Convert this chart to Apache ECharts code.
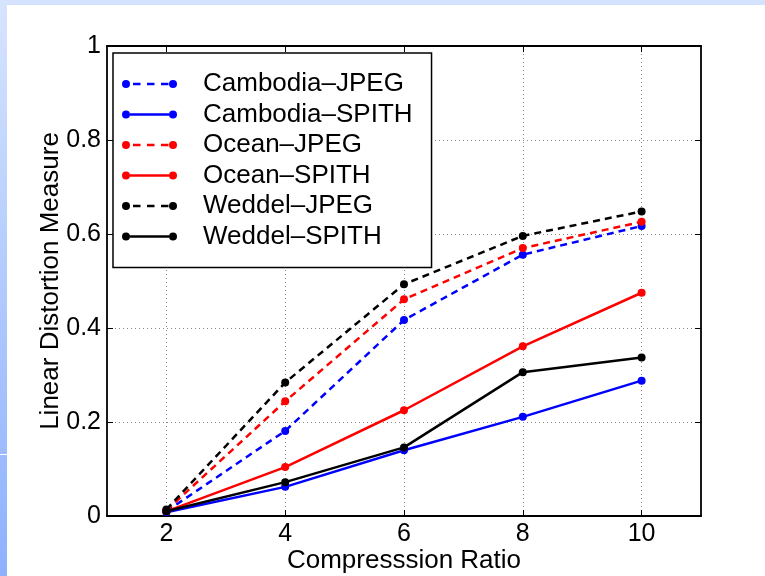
<!DOCTYPE html>
<html><head><meta charset="utf-8">
<script src="https://cdn.jsdelivr.net/npm/echarts@6/dist/echarts.min.js"></script>
<style>html,body{margin:0;padding:0;background:#fff}#c{width:765px;height:576px}</style>
</head><body><div id="c"></div>
<script>
const xValues = [2, 4, 6, 8, 10];
const xTicks = [2, 4, 6, 8, 10];
const yTicks = [0, 0.2, 0.4, 0.6, 0.8, 1];
const seriesNames = ['Cambodia–JPEG', 'Cambodia–SPITH', 'Ocean–JPEG', 'Ocean–SPITH', 'Weddel–JPEG', 'Weddel–SPITH'];
const cambodiaJpeg  = [0.010, 0.181, 0.417, 0.556, 0.617];
const cambodiaSpith = [0.008, 0.062, 0.140, 0.211, 0.288];
const oceanJpeg     = [0.012, 0.244, 0.461, 0.570, 0.626];
const oceanSpith    = [0.010, 0.104, 0.225, 0.361, 0.475];
const weddelJpeg    = [0.014, 0.284, 0.493, 0.596, 0.648];
const weddelSpith   = [0.010, 0.072, 0.146, 0.306, 0.337];
const seriesValues = [cambodiaJpeg, cambodiaSpith, oceanJpeg, oceanSpith, weddelJpeg, weddelSpith];
const seriesColors = ['#0000ff', '#0000ff', '#ff0000', '#ff0000', '#000000', '#000000'];
const seriesDashed = [true, false, true, false, true, false];

const FONT = '"Liberation Sans", Arial, Helvetica, sans-serif';
const circ = (cx) => 'M' + (cx - 4) + ',4a4,4 0 1,0 8,0a4,4 0 1,0 -8,0Z';
const dashedIcon = 'path://' + circ(4) + 'M11,2.75h7.5v2.5h-7.5Z M25,2.75h7.5v2.5h-7.5Z M39,2.75h7.5v2.5h-7.5Z' + circ(51);
const solidIcon = 'path://' + circ(4) + 'M8,2.75h39v2.5h-39Z' + circ(51);

const chart = echarts.init(document.getElementById('c'), null, {renderer: 'canvas'});

const axisCommon = {
  axisLine: {show: true, onZero: false, lineStyle: {color: '#000', width: 1.8}},
  axisTick: {show: true, inside: true, length: 6, lineStyle: {color: '#000', width: 1}},
};

const series = seriesNames.map((name, i) => ({
  name: name,
  type: 'line',
  data: xValues.map((x, j) => [x, seriesValues[i][j]]),
  symbol: 'circle',
  symbolSize: 8,
  showSymbol: true,
  color: seriesColors[i],
  lineStyle: {color: seriesColors[i], width: 2.5, type: seriesDashed[i] ? [7, 5] : 'solid'},
  itemStyle: {color: seriesColors[i], borderWidth: 0},
  emphasis: {disabled: true},
  z: 3 + i
}));

chart.setOption({
  animation: false,
  backgroundColor: '#ffffff',
  textStyle: {fontFamily: FONT},
  graphic: [
    {type: 'rect', shape: {x: 0, y: 0, width: 765, height: 5}, style: {fill: '#d4e2fd'}, silent: true, z: -10},
    {type: 'rect', shape: {x: 0, y: 0, width: 7, height: 576},
     style: {fill: new echarts.graphic.LinearGradient(0, 0, 0, 1, [{offset: 0, color: '#d6e4fd'}, {offset: 1, color: '#8db1fe'}])},
     silent: true, z: -10},
    {type: 'rect', shape: {x: 0, y: 454, width: 7, height: 1}, style: {fill: '#ffffff'}, silent: true, z: -9}
  ],
  grid: {left: 107, right: 64, top: 46, bottom: 60, containLabel: false, outerBoundsMode: 'none'},
  legend: {
    orient: 'vertical',
    left: 113,
    top: 53,
    align: 'left',
    itemWidth: 55,
    itemHeight: 8,
    itemGap: 2.5,
    padding: [17, 19, 17, 9],
    backgroundColor: '#ffffff',
    borderColor: '#000000',
    borderWidth: 1.5,
    borderRadius: 0,
    selectedMode: false,
    textStyle: {fontFamily: FONT, fontSize: 26, color: '#000', lineHeight: 28, padding: [0, 0, 0, 21]},
    data: seriesNames.map((name, i) => ({
      name: name,
      icon: seriesDashed[i] ? dashedIcon : solidIcon,
      itemStyle: {color: seriesColors[i], borderWidth: 0}
    })),
    z: 20
  },
  xAxis: [
    Object.assign({}, axisCommon, {
      type: 'value', position: 'bottom', min: 1, max: 11,
      name: 'Compresssion Ratio', nameLocation: 'middle', nameGap: 32, nameMoveOverlap: false,
      nameTextStyle: {fontFamily: FONT, fontSize: 26, color: '#000'},
      axisTick: Object.assign({}, axisCommon.axisTick, {customValues: xTicks}),
      axisLabel: {customValues: xTicks, fontFamily: FONT, fontSize: 25, color: '#000', margin: 6},
      splitLine: {show: true, lineStyle: {color: '#888', width: 1, type: [1, 3]}}
    }),
    Object.assign({}, axisCommon, {
      type: 'value', position: 'top', min: 1, max: 11,
      axisTick: Object.assign({}, axisCommon.axisTick, {customValues: xTicks}),
      axisLabel: {show: false, customValues: xTicks},
      splitLine: {show: false}
    })
  ],
  yAxis: [
    Object.assign({}, axisCommon, {
      type: 'value', position: 'left', min: 0, max: 1, interval: 0.2,
      name: 'Linear Distortion Measure', nameLocation: 'middle', nameGap: 43, nameRotate: 90, nameMoveOverlap: false,
      nameTextStyle: {fontFamily: FONT, fontSize: 26, color: '#000'},
      axisLabel: {fontFamily: FONT, fontSize: 25, color: '#000', margin: 6,
        formatter: (v) => String(yTicks.find(t => Math.abs(t - v) < 1e-9) ?? v)},
      splitLine: {show: true, lineStyle: {color: '#888', width: 1, type: [1, 3]}}
    }),
    Object.assign({}, axisCommon, {
      type: 'value', position: 'right', min: 0, max: 1, interval: 0.2,
      axisLabel: {show: false},
      splitLine: {show: false}
    })
  ],
  series: series
});
</script>
</body></html>
